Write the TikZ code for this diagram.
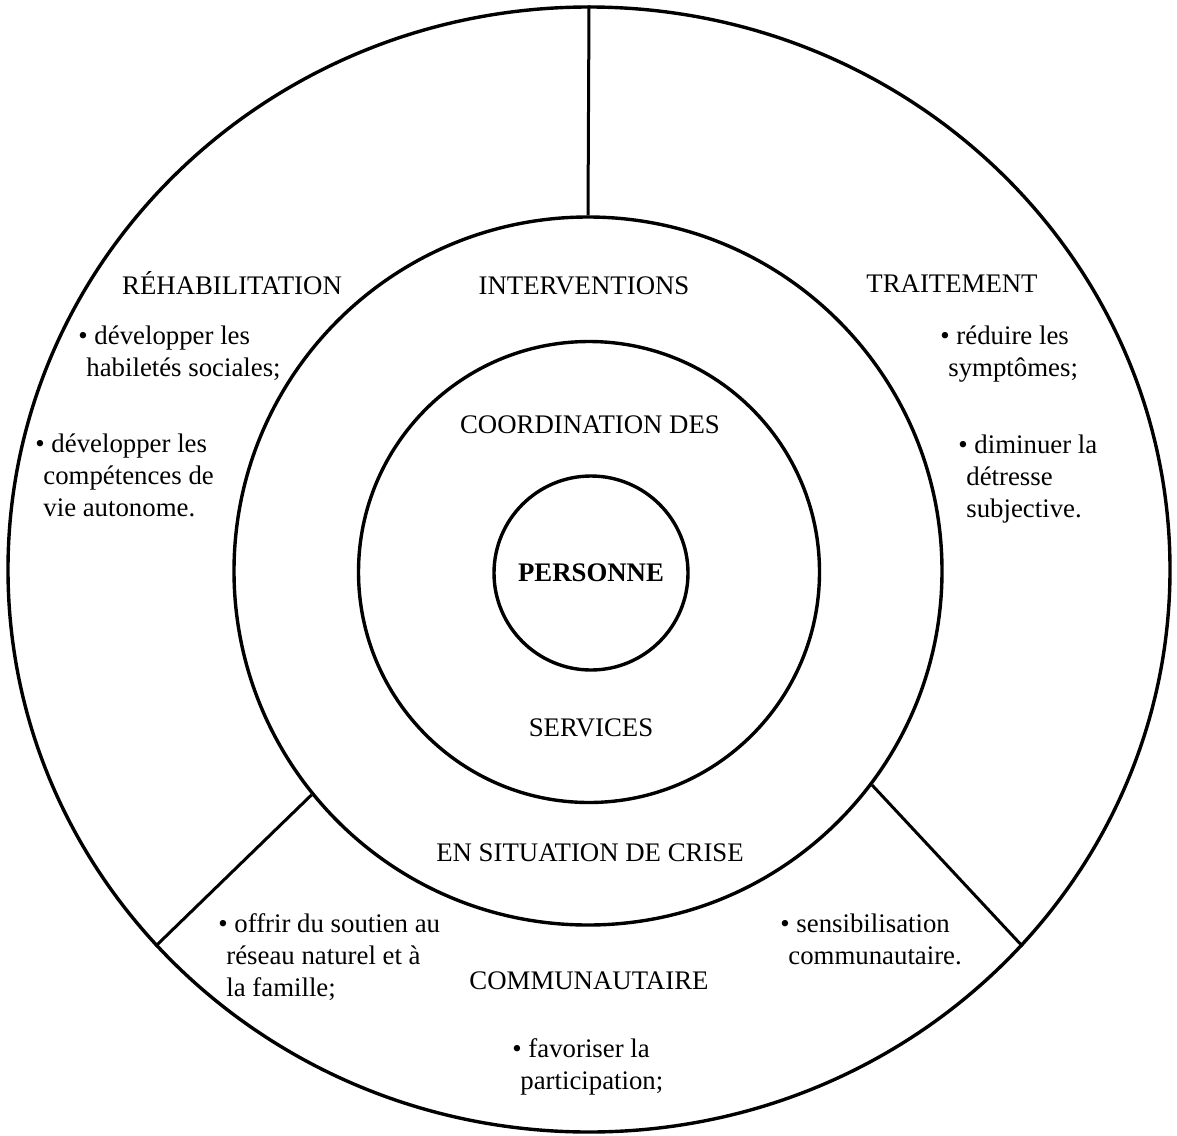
\documentclass[tikz,border=0pt]{standalone}
\usepackage{fontspec}
\setmainfont{Liberation Serif}
\usetikzlibrary{shapes.geometric}
\newcommand{\bl}{\textbullet\ }
\newcommand{\hg}{\hspace*{4pt}}
\begin{document}
\begin{tikzpicture}[x=0.5pt,y=-0.5pt,
  ring/.style={draw, line width=1.7pt, circle, inner sep=0pt},
  lbl/.style={inner sep=0pt, font=\fontsize{13.4pt}{16pt}\selectfont},
  blk/.style={lbl, align=left, anchor=north west},
  sep/.style={line width=1.5pt}]
\useasboundingbox (0,0) rectangle (1177,1135);
% rings
\node[draw, line width=1.7pt, ellipse, inner sep=0pt, minimum width=581pt, minimum height=562.5pt] (outer) at (589,569.5) {};
\node[ring, minimum size=354pt] (mid) at (588,571) {};
\node[ring, minimum size=230.5pt] (coord) at (589,572) {};
\node[ring, minimum size=97pt, font=\fontsize{13.4pt}{16pt}\selectfont\bfseries] (pers) at (591,573) {PERSONNE};
% separators
\draw[sep] (mid.90) -- (outer.90);
\draw[sep] (mid.219.3) -- (outer.221.4);
\draw[sep] (mid.-37.4) -- (outer.-41.3);
% titles
\node[lbl, anchor=base] (rehab) at (232,294) {RÉHABILITATION};
\node[lbl, anchor=base] (interv) at (584,294) {INTERVENTIONS};
\node[lbl, anchor=base] (trait) at (952,292) {TRAITEMENT};
\node[lbl, anchor=base] (coordt) at (590,433) {COORDINATION DES};
\node[lbl, anchor=base] (serv) at (591,736) {SERVICES};
\node[lbl, anchor=base] (crise) at (590,861) {EN SITUATION DE CRISE};
\node[lbl, anchor=base] (comm) at (589,989) {COMMUNAUTAIRE};
% bullet blocks
\node[blk] (l1) at (78,325) {\bl développer les\\\hg habiletés sociales;};
\node[blk] (l2) at (35,433) {\bl développer les\\\hg compétences de\\\hg vie autonome.};
\node[blk] (r1) at (940,325) {\bl réduire les\\\hg symptômes;};
\node[blk] (r2) at (958,434) {\bl diminuer la\\\hg détresse\\\hg subjective.};
\node[blk] (b1) at (218,913) {\bl offrir du soutien au\\\hg réseau naturel et à\\\hg la famille;};
\node[blk] (b2) at (780,913) {\bl sensibilisation\\\hg communautaire.};
\node[blk] (b3) at (512,1038) {\bl favoriser la\\\hg participation;};
\end{tikzpicture}
\end{document}
